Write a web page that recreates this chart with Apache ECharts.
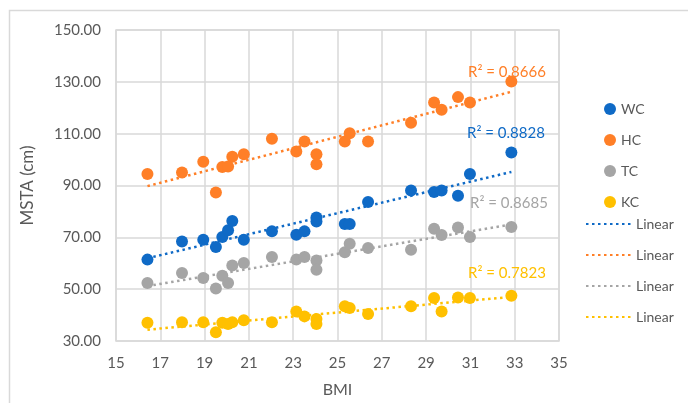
<!DOCTYPE html>
<html>
<head>
<meta charset="utf-8">
<script src="https://cdn.jsdelivr.net/npm/echarts@6/dist/echarts.min.js"></script>
<style>
  html, body { margin: 0; padding: 0; background: #ffffff; }
  #chart { width: 688px; height: 403px; }
</style>
</head>
<body>
<div id="chart"></div>
<script>
// BMI of each subject (shared by all four measurements)
const bmi = [16.42, 17.98, 18.94, 19.51, 19.80, 20.06, 20.25, 20.77, 22.04, 23.14, 23.51,
             24.05, 24.05, 25.33, 25.55, 26.38, 28.32, 29.36, 29.70, 30.44, 30.98, 32.85];

// MSTA values (cm) for each circumference
const wc = [61.4, 68.4, 69.1, 66.3, 70.1, 72.7, 76.3, 69.1, 72.3, 71.0, 72.3,
            77.7, 76.1, 75.1, 75.1, 83.6, 88.1, 87.5, 88.1, 86.0, 94.4, 102.7];
const hc = [94.4, 95.0, 99.2, 87.3, 97.1, 97.3, 101.1, 102.1, 108.0, 103.1, 107.0,
            102.1, 98.2, 107.0, 110.2, 107.0, 114.2, 122.0, 119.2, 124.1, 122.0, 130.1];
const tc = [52.4, 56.2, 54.3, 50.3, 55.2, 52.4, 59.1, 60.1, 62.4, 61.4, 62.4,
            61.1, 57.5, 64.2, 67.5, 65.9, 65.2, 73.3, 70.9, 73.8, 70.1, 74.0];
const kc = [37.0, 37.2, 37.2, 33.4, 37.0, 36.6, 37.2, 38.0, 37.2, 41.4, 39.5,
            38.5, 36.6, 43.4, 42.7, 40.4, 43.4, 46.6, 41.4, 46.8, 46.6, 47.5];

const seriesNames = ['WC', 'HC', 'TC', 'KC'];
const r2Labels = ['R² = 0.8828', 'R² = 0.8666', 'R² = 0.8685', 'R² = 0.7823'];

const xTicks = { min: 15, max: 35, interval: 2 };
const yTicks = { min: 30, max: 150, interval: 20 };

const colors = ['#0F6AC6', '#FF7F27', '#A5A5A5', '#FFC000'];
const textColor = '#595959';
const font = 'Lato, "Open Sans", sans-serif';

// least-squares fit, drawn between the smallest and largest BMI
function trend(xs, ys) {
  const n = xs.length;
  let sx = 0, sy = 0, sxx = 0, sxy = 0;
  for (let i = 0; i < n; i++) {
    sx += xs[i]; sy += ys[i]; sxx += xs[i] * xs[i]; sxy += xs[i] * ys[i];
  }
  const b = (n * sxy - sx * sy) / (n * sxx - sx * sx);
  const a = (sy - b * sx) / n;
  const x0 = Math.min(...xs), x1 = Math.max(...xs);
  return [[x0, a + b * x0], [x1, a + b * x1]];
}

const values = [wc, hc, tc, kc];
const scatterSeries = values.map((vals, i) => ({
  name: seriesNames[i],
  type: 'scatter',
  symbolSize: 12,
  itemStyle: { color: colors[i], opacity: 1 },
  data: bmi.map((x, j) => [x, vals[j]]),
  z: 3
}));
const lineSeries = values.map((vals, i) => ({
  name: 'Linear ' + seriesNames[i],
  type: 'line',
  symbol: 'none',
  silent: true,
  lineStyle: { color: colors[i], width: 2.5, type: [2.5, 3.5] },
  itemStyle: { color: colors[i] },
  data: trend(bmi, vals),
  z: 2
}));

// R² annotations next to each trend line
const r2Pos = [[506, 133], [507, 72], [509, 203], [507, 273]];
const r2Graphics = r2Labels.map((t, i) => ({
  type: 'text',
  x: r2Pos[i][0], y: r2Pos[i][1],
  style: {
    text: t, fill: colors[i], font: '15px ' + font,
    textAlign: 'center', textVerticalAlign: 'middle'
  },
  z: 10
}));

const chart = echarts.init(document.getElementById('chart'), null, { renderer: 'canvas' });
chart.setOption({
  animation: false,
  backgroundColor: '#ffffff',
  textStyle: { fontFamily: font },
  grid: {
    left: 116, right: 129, top: 30, bottom: 62,
    outerBoundsMode: 'none', containLabel: false,
    show: true, borderColor: '#d9d9d9', borderWidth: 1.5
  },
  xAxis: {
    type: 'value', min: xTicks.min, max: xTicks.max, interval: xTicks.interval,
    name: 'BMI', nameLocation: 'middle', nameGap: 41,
    nameTextStyle: { color: textColor, fontSize: 16, fontFamily: font },
    axisLine: { show: false }, axisTick: { show: false },
    axisLabel: { color: textColor, fontSize: 15, margin: 15, fontFamily: font },
    splitLine: { show: true, lineStyle: { color: '#d9d9d9', width: 1.5 } }
  },
  yAxis: {
    type: 'value', min: yTicks.min, max: yTicks.max, interval: yTicks.interval,
    name: 'MSTA (cm)', nameLocation: 'middle', nameGap: 80, nameRotate: 90,
    nameTextStyle: { color: textColor, fontSize: 17, fontFamily: font },
    axisLine: { show: false }, axisTick: { show: false },
    axisLabel: { color: textColor, fontSize: 15, margin: 15, fontFamily: font,
                 formatter: v => v.toFixed(2) },
    splitLine: { show: true, lineStyle: { color: '#d9d9d9', width: 1.5 } }
  },
  legend: [
    {
      orient: 'vertical', left: 599, top: 97,
      itemWidth: 12, itemHeight: 12, itemGap: 17, itemTextGap: 24,
      icon: 'circle', selectedMode: false,
      data: seriesNames,
      textStyle: { color: textColor, fontSize: 14, fontFamily: font }
    },
    {
      orient: 'vertical', left: 580, top: 212,
      itemWidth: 45, itemHeight: 12, itemGap: 17, itemTextGap: 10,
      selectedMode: false,
      itemStyle: { color: 'transparent', borderWidth: 0, opacity: 0 },
      data: seriesNames.map(n => 'Linear ' + n),
      formatter: () => 'Linear',
      textStyle: { color: textColor, fontSize: 14, fontFamily: font }
    }
  ],
  graphic: [
    {
      type: 'rect', silent: true,
      shape: { x: 9.5, y: 10.5, width: 720, height: 440 },
      style: { fill: 'none', stroke: '#d9d9d9', lineWidth: 1.5 },
      z: -1
    }
  ].concat(r2Graphics),
  series: scatterSeries.concat(lineSeries)
});
</script>
</body>
</html>
